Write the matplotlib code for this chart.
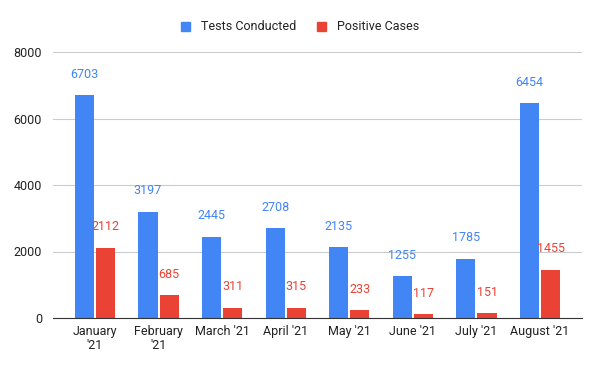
import numpy as np
import matplotlib
matplotlib.use("Agg")
import matplotlib.pyplot as plt
from matplotlib.patches import Patch

plt.rcParams['font.family'] = ['Roboto', 'DejaVu Sans']

# данные
months = ["January\n'21", "February\n'21", "March '21", "April '21",
          "May '21", "June '21", "July '21", "August '21"]
tests = [6703, 3197, 2445, 2708, 2135, 1255, 1785, 6454]
positive = [2112, 685, 311, 315, 233, 117, 151, 1455]

blue = '#4285F4'
red = '#EA4335'

fig = plt.figure(figsize=(6, 3.71), dpi=100)
ax = fig.add_axes([53/600, 53/371, 529/600, 266/371])

x = np.arange(len(months))
w = 0.3
gap = 0.016
ax.bar(x - w/2 - gap, tests, width=w, color=blue, zorder=3)
ax.bar(x + w/2 + gap, positive, width=w, color=red, zorder=3)

# подписи значений
for i in range(len(months)):
    ax.annotate(str(tests[i]), (x[i] - w/2 - gap, tests[i]), xytext=(0, 15),
                textcoords='offset points', ha='center', va='center',
                color=blue, fontsize=9, zorder=4)
    ax.annotate(str(positive[i]), (x[i] + w/2 + gap, positive[i]), xytext=(0, 15),
                textcoords='offset points', ha='center', va='center',
                color=red, fontsize=9, zorder=4)

ax.set_xlim(-0.66, 7.66)
ax.set_ylim(0, 8000)
ax.set_yticks([0, 2000, 4000, 6000, 8000])
ax.set_xticks(x)
ax.set_xticklabels(months, fontsize=9, color='#222222', linespacing=1.15)
ax.tick_params(axis='y', labelsize=9, labelcolor='#222222', length=0, pad=8)
ax.tick_params(axis='x', length=0, pad=5)
ax.grid(axis='y', color='#cccccc', lw=0.8, zorder=0)
for s in ['top', 'right', 'left']:
    ax.spines[s].set_visible(False)
ax.spines['bottom'].set_color('#333333')
ax.spines['bottom'].set_zorder(5)

handles = [Patch(color=blue, label='Tests Conducted'),
           Patch(color=red, label='Positive Cases')]
fig.legend(handles=handles, loc='center', bbox_to_anchor=(0.5, 1 - 27/371),
           ncol=2, frameon=False, fontsize=9, handlelength=0.75, handleheight=0.75,
           handletextpad=0.9, columnspacing=1.6, labelcolor='#222222')

fig.savefig('out.png', dpi=100)
